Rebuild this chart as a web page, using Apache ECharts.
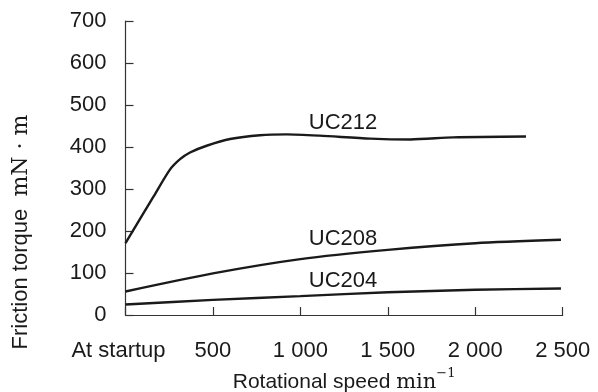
<!DOCTYPE html>
<html>
<head>
<meta charset="utf-8">
<script src="https://cdn.jsdelivr.net/npm/echarts@6/dist/echarts.min.js"></script>
<style>html,body{margin:0;padding:0;background:#fff}#c{width:598px;height:392px}</style>
</head>
<body>
<div id="c"></div>
<script>
// Data (rotational speed min^-1 ; friction torque mN·m)
var speedUC212 = [0, 159, 254, 312, 369, 464, 598, 769, 922, 1110, 1400, 1630, 1875, 2290];
var torqueUC212 = [171, 281, 346, 371, 387, 403, 419, 428, 430, 427, 420, 418, 423, 425];
var speedUC208 = [0, 500, 1000, 1500, 2000, 2490];
var torqueUC208 = [56, 99, 133, 155, 171, 179];
var speedUC204 = [0, 500, 1000, 1500, 2000, 2490];
var torqueUC204 = [25, 36, 45, 54, 60, 63];
var seriesNames = ['UC212', 'UC208', 'UC204'];
var labelAnchors = [[1244, 458], [1244, 181], [1244, 81]];
var xTickValues = [0, 500, 1000, 1500, 2000, 2500];
var xTickLabels = ['At startup', '500', '1 000', '1 500', '2 000', '2 500'];
var yTickLabels = ['0', '100', '200', '300', '400', '500', '600', '700'];
var xAxisTitle = 'Rotational speed ';
var xAxisUnit = 'min';
var xAxisUnitExp = '−1';
var yAxisTitle = 'Friction torque  ';
var yAxisUnit = 'mN · m';

function zip(a, b) { return a.map(function (v, i) { return [v, b[i]]; }); }

var font = 'Liberation Sans, Arial, sans-serif';
var serif = 'DejaVu Serif, Liberation Serif, serif';
var lineColor = '#1a1a1a';
var allSpeeds = [speedUC212, speedUC208, speedUC204];
var allTorques = [torqueUC212, torqueUC208, torqueUC204];

var series = seriesNames.map(function (n, i) {
  return {
    name: n,
    type: 'line',
    data: zip(allSpeeds[i], allTorques[i]),
    smooth: 0.25,
    showSymbol: false,
    symbol: 'none',
    lineStyle: { color: lineColor, width: 2.4 },
    silent: true,
    markPoint: {
      symbol: 'circle',
      symbolSize: 0,
      silent: true,
      data: [{ coord: labelAnchors[i], value: n }],
      label: {
        show: true,
        position: 'inside',
        formatter: n,
        color: '#1a1a1a',
        fontFamily: font,
        fontSize: 22
      }
    }
  };
});

var chart = echarts.init(document.getElementById('c'), null, { renderer: 'canvas' });
chart.setOption({
  animation: false,
  backgroundColor: '#fff',
  grid: { left: 125.5, right: 35.3, top: 21, bottom: 77, containLabel: false, outerBoundsMode: 'none' },
  graphic: [{
    type: 'text',
    x: 21,
    y: 232,
    rotation: Math.PI / 2,
    silent: true,
    style: {
      text: '{a|' + yAxisTitle + '}{b|' + yAxisUnit + '}',
      align: 'center',
      verticalAlign: 'middle',
      rich: {
        a: { fontFamily: font, fontSize: 22, fill: '#1a1a1a', color: '#1a1a1a' },
        b: { fontFamily: serif, fontSize: 22, fill: '#1a1a1a', color: '#1a1a1a' }
      }
    }
  }],
  xAxis: {
    type: 'value',
    min: 0, max: 2500, interval: 500,
    name: '{a|' + xAxisTitle + '}{b|' + xAxisUnit + '}{c|' + xAxisUnitExp + '}',
    nameLocation: 'middle',
    nameGap: 50,
    nameTextStyle: {
      rich: {
        a: { fontFamily: font, fontSize: 21, color: '#1a1a1a', verticalAlign: 'bottom', lineHeight: 26 },
        b: { fontFamily: serif, fontSize: 21, color: '#1a1a1a', verticalAlign: 'bottom', lineHeight: 26 },
        c: { fontFamily: serif, fontSize: 13, color: '#1a1a1a', verticalAlign: 'top', lineHeight: 26 }
      }
    },
    axisLine: { show: true, lineStyle: { color: '#333', width: 1.2 } },
    axisTick: { show: true, inside: true, length: 8, lineStyle: { color: '#333', width: 1.2 } },
    splitLine: { show: false },
    axisLabel: {
      margin: 25,
      color: '#1a1a1a', fontFamily: font, fontSize: 22,
      formatter: function (v) {
        var k = xTickValues.indexOf(v);
        if (k < 0) return '';
        return k === 0 ? '{s|' + xTickLabels[k] + '}' : xTickLabels[k];
      },
      rich: {
        s: { fontFamily: font, fontSize: 22, color: '#1a1a1a', padding: [0, 14, 0, 0] }
      }
    }
  },
  yAxis: {
    type: 'value',
    min: 0, max: 700, interval: 100,
    axisLine: { show: true, lineStyle: { color: '#333', width: 1.2 } },
    axisTick: { show: true, inside: true, length: 8, lineStyle: { color: '#333', width: 1.2 } },
    splitLine: { show: false },
    axisLabel: {
      margin: 19,
      color: '#1a1a1a', fontFamily: font, fontSize: 22,
      formatter: function (v) { return yTickLabels[Math.round(v / 100)]; }
    }
  },
  series: series
});
</script>
</body>
</html>
